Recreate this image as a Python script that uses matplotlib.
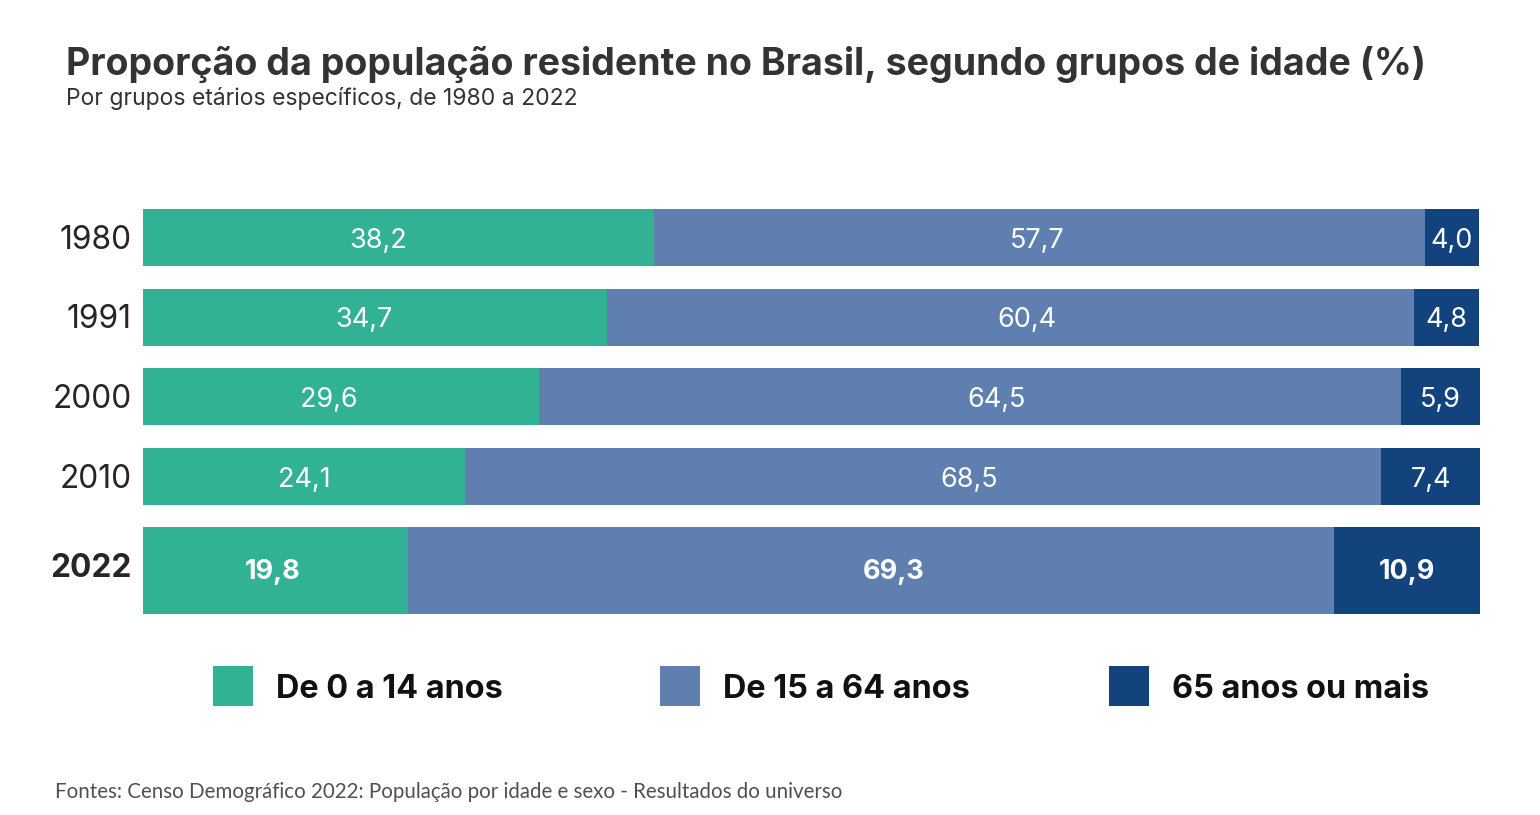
import matplotlib
matplotlib.use("Agg")
import matplotlib.pyplot as plt
from matplotlib.patches import Rectangle

years = ["1980", "1991", "2000", "2010", "2022"]
young = [38.2, 34.7, 29.6, 24.1, 19.8]
adult = [57.7, 60.4, 64.5, 68.5, 69.3]
old = [4.0, 4.8, 5.9, 7.4, 10.9]
series_names = ["De 0 a 14 anos", "De 15 a 64 anos", "65 anos ou mais"]
colors = ["#32b295", "#5e7faf", "#12437d"]

title = "Proporção da população residente no Brasil, segundo grupos de idade (%)"
subtitle = "Por grupos etários específicos, de 1980 a 2022"
footer = "Fontes: Censo Demográfico 2022: População por idade e sexo - Resultados do universo"

# layout: horizontal nudges (pixels) of the value labels, as placed in the original
label_dx = [[-20, -2, 0], [-11.5, 16, 0], [-12.5, 27, 0], [0, 46, 0], [-3, 23, 0]]

W, H = 1540, 815
fig = plt.figure(figsize=(W / 100, H / 100), dpi=100)
FONT = ["Inter", "DejaVu Sans"]

def fx(px):
    return px / W

def fy(py):
    return 1 - py / H

ax_top, ax_bot = 200, 620
ax_left, ax_right = 143, 1480
ax = fig.add_axes([fx(ax_left), fy(ax_bot), fx(ax_right) - fx(ax_left), (ax_bot - ax_top) / H])
ax.set_xlim(0, 100)
ax.set_ylim(ax_bot, ax_top)
ax.axis("off")
px_per_unit = (ax_right - ax_left) / 100.0

heights = [57, 57, 57, 57, 87]
gap = 22.5
top = 209
centers = []
for h in heights:
    centers.append(top + h / 2)
    top += h + gap

series = [young, adult, old]
for i, yr in enumerate(years):
    left = 0
    last = (i == len(years) - 1)
    for s, vals in enumerate(series):
        v = vals[i]
        ax.barh(centers[i], v, left=left, height=heights[i], color=colors[s],
                edgecolor="none")
        xpos = left + v / 2 + label_dx[i][s] / px_per_unit
        ax.text(xpos, centers[i] + (8.5 if last else 10.5), f"{v:.1f}".replace(".", ","),
                ha="center", va="baseline", color="white",
                fontsize=19.5, fontweight="bold" if last else "normal",
                family=FONT)
        left += v
    fig.text(fx(132), fy(centers[i] + (6.5 if last else 11.5)), yr, ha="right", va="baseline",
             fontsize=22.8, color="#262626", family=FONT,
             fontweight="bold" if last else "normal")

fig.text(fx(66), fy(75), title, ha="left", va="baseline", fontsize=27,
         fontweight="bold", color="#333333", family=FONT)
fig.text(fx(66), fy(105), subtitle, ha="left", va="baseline", fontsize=16.5,
         color="#333333", family=FONT)

leg_sq = [213, 660, 1109]
leg_tx = [276, 723, 1172]
for s in range(3):
    fig.patches.append(Rectangle((fx(leg_sq[s]), fy(706)), 40 / W, 40 / H,
                                 transform=fig.transFigure, facecolor=colors[s],
                                 edgecolor="none"))
    fig.text(fx(leg_tx[s]), fy(689), series_names[s], ha="left", va="center",
             fontsize=23.3, fontweight="bold", color="#111111", family=FONT)

fig.text(fx(55), fy(798), footer, ha="left", va="baseline", fontsize=14.8,
         color="#505050", family=["Lato", "DejaVu Sans"], fontweight="normal")

fig.savefig("out.png", dpi=100, facecolor="white")
